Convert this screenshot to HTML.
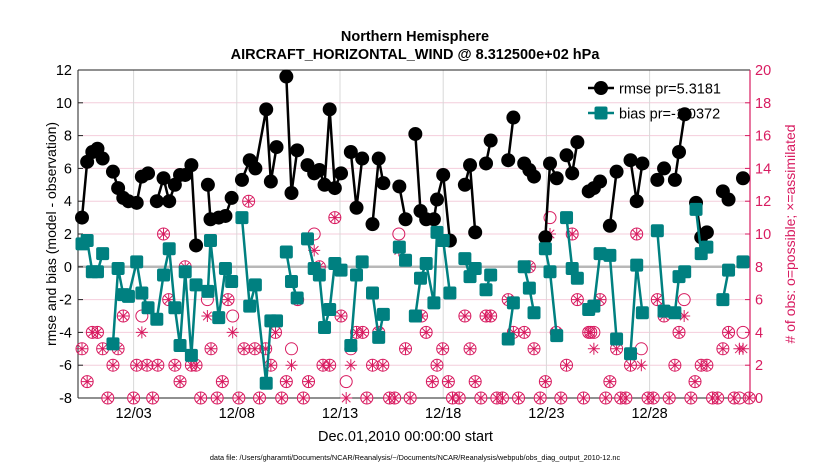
<!DOCTYPE html>
<html><head><meta charset="utf-8"><style>
html,body{margin:0;padding:0;background:#fff;}
svg{display:block;font-family:"Liberation Sans",sans-serif;}
</style></head><body>
<svg id="chart" width="830" height="470" viewBox="0 0 830 470">
<text x="415" y="41" text-anchor="middle" font-size="14.5" font-weight="bold">Northern Hemisphere</text>
<text x="415" y="59" text-anchor="middle" font-size="14.5" font-weight="bold">AIRCRAFT_HORIZONTAL_WIND @ 8.312500e+02 hPa</text>
<g id="grid"></g>
<g id="axes"></g>
<g id="legend">
 <line x1="588" y1="88" x2="614" y2="88" stroke="#000" stroke-width="2.5"/>
 <circle cx="601" cy="88" r="7" fill="#000"/>
 <text x="619" y="93.5" font-size="14.5">rmse pr=5.3181</text>
 <line x1="588" y1="113" x2="614" y2="113" stroke="#008080" stroke-width="2.5"/>
 <rect x="594.5" y="106.5" width="13" height="13" rx="2" fill="#008080"/>
 <text x="619" y="118.5" font-size="14.5">bias pr=-1.0372</text>
</g>
<g id="data"></g>
<text transform="translate(56,234) rotate(-90)" text-anchor="middle" font-size="14">rmse and bias (model - observation)</text>
<text transform="translate(795,234) rotate(-90)" text-anchor="middle" font-size="14" fill="#d81b60"># of obs: o=possible; ×=assimilated</text>
<text x="318" y="441" font-size="14.5">Dec.01,2010 00:00:00 start</text>
<text x="415" y="460" text-anchor="middle" font-size="7.3">data file: /Users/gharamti/Documents/NCAR/Reanalysis/~/Documents/NCAR/Reanalysis/webpub/obs_diag_output_2010-12.nc</text>
</svg>
<script>
// time in 6-hour slots; null value = line break
const rmseT = [0,1,2,3,4,5,6,7,8,9,10.6,11.6,12.8,13.5,14.5,15.8,16.9,18,19,20,21.2,22.1,23,24.4,24.9,26.5,27.8,29,30,31,32.5,33.6,35.7,36.6,37.7,38.5,39.6,40.6,41.7,42.7,43.7,45,46,47,48,49,50.2,51,52.1,53.2,54.3,55.3,56.3,57.5,58.4,60,61.5,62.7,63.6,64.6,65.6,66.7,68.2,68.8,70,71.3,72.8,74.2,75.2,76.2,77.3,78.3,79.2,81,82.6,83.6,84.6,85.7,86.7,87.6,88.7,89.8,90.7,92,93,93.9,95,96,97.1,98.2,99.2,100.4,101.3,102.3,103.6,105,106.3,107.5,108.6,110,111.5,112.8,113.8,114.9,115.7,116.8,118,119,120,121.1,122.6,124.2,125.3,126.7,128.1];
const rmseV = [3.0,6.4,7.0,7.2,6.6,null,5.8,4.8,4.2,4.0,3.9,5.5,5.7,null,4.0,5.4,4.0,5.0,5.6,5.6,6.2,1.3,null,5.0,2.9,3.0,3.1,4.2,null,5.3,6.5,6.0,9.6,5.2,7.3,null,11.6,4.5,7.1,null,6.2,5.7,5.9,5.0,9.6,4.8,5.7,null,7.0,3.6,6.6,null,2.6,6.6,5.1,null,4.9,2.9,null,8.1,3.4,2.9,2.9,4.1,5.6,1.6,null,5.0,6.2,2.1,null,6.3,7.7,null,6.5,9.1,null,6.3,5.9,5.5,null,1.8,6.3,5.4,null,6.8,5.7,7.6,null,4.6,4.8,5.2,null,2.5,5.8,null,6.5,4.0,6.3,null,5.3,6.0,null,5.3,7.0,9.3,null,3.9,1.8,2.1,null,4.6,4.1,null,5.4];
const biasT = [0,1,2,3,4,5,6,7,8,9,10.6,11.6,12.8,13.5,14.5,15.8,16.9,18,19,20,21.2,22.1,23,24.4,24.9,26.5,27.8,29,30,31,32.5,33.6,35.7,36.6,37.7,38.5,39.6,40.6,41.7,42.7,43.7,45,46,47,48,49,50.2,51,52.1,53.2,54.3,55.3,56.3,57.5,58.4,60,61.5,62.7,63.6,64.6,65.6,66.7,68.2,68.8,70,71.3,72.8,74.2,75.2,76.2,77.3,78.3,79.2,81,82.6,83.6,84.6,85.7,86.7,87.6,88.7,89.8,90.7,92,93,93.9,95,96,97.1,98.2,99.2,100.4,101.3,102.3,103.6,105,106.3,107.5,108.6,110,111.5,112.8,113.8,114.9,115.7,116.8,118,119,120,121.1,122.6,124.2,125.3,126.7,128.1];
const biasV = [1.4,1.6,-0.3,-0.3,0.8,null,-4.7,-0.1,-1.7,-1.8,0.3,-1.6,-2.5,null,-3.2,-0.5,1.1,-2.5,-4.8,-0.3,-5.4,-1.1,null,-1.5,1.6,-3.1,-0.1,-0.9,null,3.0,-2.4,-1.1,-7.1,-3.3,-3.3,null,0.9,-0.9,-1.9,null,1.7,-0.1,-0.5,-3.7,-2.6,0.2,-0.2,null,-4.8,-0.5,0.3,null,-1.6,-4.3,-2.9,null,1.2,0.4,null,-3.0,-0.7,0.2,-2.2,2.1,1.6,-1.6,null,0.5,-0.6,-0.1,null,-1.4,-0.5,null,-4.4,-2.2,null,0.0,-1.3,-2.8,null,1.1,-0.3,-4.2,null,3.0,-0.1,-0.7,null,-2.6,-2.4,0.8,null,0.7,-4.4,null,-5.3,0.1,-2.8,null,2.2,-2.7,null,-2.8,-0.6,-0.3,null,3.5,0.8,1.2,null,-2.0,-0.2,null,0.3];
const obsT = [0,1,2,3,4,5,6,7,8,10,10.6,11.6,12.6,13.7,14.7,15.8,16.8,18,19,20,21.2,22.1,23,24.3,25,26.2,27.2,28.3,29.2,30.4,31.4,32.3,33.5,34.4,35.6,36.6,37.5,38.7,39.6,40.6,41.8,42.9,43.9,45,46,46.7,48,49,50.2,51.2,52.1,53.2,54.4,55.2,56.3,57.5,58.3,59.6,60.6,61.4,62.7,63.6,64.8,65.8,66.7,67.9,68.8,69.9,71,71.8,73.1,74.2,75.2,76.2,77.3,78.3,79.2,80.4,81.5,82.6,83.6,84.6,85.7,86.7,87.6,88.8,89.8,90.7,91.9,92.8,93.9,95,96,97.2,98.2,98.6,99.2,100.4,101.5,102.3,103.6,104.4,105.4,106.3,107.5,108.4,109.7,110.7,111.5,112.8,113.8,114.9,115.7,116.7,118,118.8,120,121.1,122.2,123.2,124.2,125.3,126.4,127.4,128.1,129.3];
const possV = [3,1,4,4,3,0,2,3,5,0,2,5,2,0,2,10,6,2,1,8,2,2,0,6,3,0,1,6,5,0,3,12,3,0,3,2,4,0,1,3,6,0,1,10,8,2,2,11,5,1,3,4,4,0,2,4,2,0,0,10,3,0,5,5,4,1,2,3,1,0,0,5,3,1,0,5,5,0,0,6,4,0,4,8,3,0,1,11,4,0,2,10,6,0,4,4,4,6,0,1,3,0,0,2,10,3,0,0,6,5,0,2,4,6,0,1,2,2,0,0,3,4,0,0,4,0];
const asmV  = [3,1,4,4,3,0,2,3,5,0,2,4,2,0,2,10,6,2,1,8,2,2,0,5,3,0,1,6,4,0,3,12,3,0,3,2,4,0,1,2,6,0,1,9,8,2,2,11,5,0,2,4,4,0,2,4,2,0,0,9,3,0,5,5,4,1,2,3,1,0,0,5,3,1,0,5,5,0,0,6,4,0,4,8,3,0,1,10,4,0,2,10,6,0,4,4,3,6,0,1,3,0,0,2,10,2,0,0,6,5,0,2,4,5,0,1,2,2,0,0,3,4,0,3,3,0];
const leftTicks = [-8,-6,-4,-2,0,2,4,6,8,10,12];
const rightTicks = [0,2,4,6,8,10,12,14,16,18,20];
const dateTicks = [10,30,50,70,90,110];
const dateLabels = ["12/03","12/08","12/13","12/18","12/23","12/28"];

const NS="http://www.w3.org/2000/svg";
const L=78,R=750,T=70,B=398, RED="#d81b60", TEAL="#008080";
const xs = s => 82 + s*5.16;
const ys = v => T + (12 - v)*(B-T)/20;
const yc = c => ys(c - 8);
function mk(tag, attrs, parent){const e=document.createElementNS(NS,tag);for(const k in attrs)e.setAttribute(k,attrs[k]);parent.appendChild(e);return e;}
const grid=document.getElementById('grid'), axes=document.getElementById('axes'), data=document.getElementById('data');

leftTicks.forEach(v=>{
  if(v!==-8&&v!==12){const g=mk('line',{x1:L,x2:R,y1:ys(v),y2:ys(v),stroke:'#f4cddb','stroke-width':1},grid);
  
  }
  mk('line',{x1:L,x2:L+5,y1:ys(v),y2:ys(v),stroke:'#222'},axes);
  const t=mk('text',{x:L-6,y:ys(v)+5,'text-anchor':'end','font-size':14.5},axes);t.textContent=v;
  
  
});
rightTicks.forEach(c=>{
  mk('line',{x1:R-5,x2:R,y1:yc(c),y2:yc(c),stroke:RED},axes);
  const t=mk('text',{x:R+5,y:yc(c)+5,'font-size':14.5,fill:RED},axes);t.textContent=c;
  
  
});
dateTicks.forEach((s,i)=>{
  const g=mk('line',{x1:xs(s),x2:xs(s),y1:T,y2:B,stroke:'#d8d8d8','stroke-width':1},grid);
  
  
  const t=mk('text',{x:xs(s),y:B+20,'text-anchor':'middle','font-size':14.5},axes);t.textContent=dateLabels[i];
  
  
});
const zl=mk('line',{x1:L,x2:R,y1:ys(0),y2:ys(0),stroke:'#b8b8b8','stroke-width':2.5},grid);


mk('line',{x1:L,x2:R,y1:T,y2:T,stroke:'#222'},axes);
mk('line',{x1:L,x2:R,y1:B,y2:B,stroke:'#222'},axes);
mk('line',{x1:L,x2:L,y1:T,y2:B,stroke:'#222'},axes);
mk('line',{x1:R,x2:R,y1:T,y2:B,stroke:RED,'stroke-width':1.2},axes);

function star(cx,cy,r,parent){
  let d='';for(let k=0;k<4;k++){const a=k*Math.PI/4;d+=`M${cx-r*Math.cos(a)},${cy-r*Math.sin(a)}L${cx+r*Math.cos(a)},${cy+r*Math.sin(a)}`;}
  return mk('path',{d:d,stroke:RED,'stroke-width':1,fill:'none'},parent);
}
obsT.forEach((s,i)=>{
  const p=mk('circle',{cx:xs(s),cy:yc(possV[i]),r:6,fill:'none',stroke:RED,'stroke-width':1},data);
  
  
  const a=star(xs(s),yc(asmV[i]),6,data);
  
  
});
function series(T_,V_,color,name,marker){
  let d='',pen=false;
  T_.forEach((s,i)=>{const v=V_[i];if(v===null){pen=false;return;}d+=(pen?'L':'M')+xs(s)+','+ys(v);pen=true;});
  const p=mk('path',{d:d,stroke:color,'stroke-width':2.5,fill:'none','stroke-linejoin':'round'},data);
  
  
  T_.forEach((s,i)=>{const v=V_[i];if(v===null)return;
    let m;
    if(marker==='circle') m=mk('circle',{cx:xs(s),cy:ys(v),r:7,fill:color},data);
    else m=mk('rect',{x:xs(s)-6.5,y:ys(v)-6.5,width:13,height:13,rx:2,fill:color},data);
    
    
  });
}
series(rmseT,rmseV,'#000','rmse','circle');
series(biasT,biasV,TEAL,'bias','square');
</script>
</body></html>
